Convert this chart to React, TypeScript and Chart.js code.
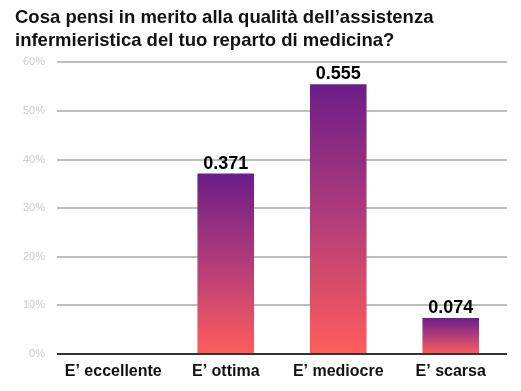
import React, { useEffect, useRef } from "react";
import { Chart, registerables } from "chart.js";

Chart.register(...registerables);

const titleLines = [
  "Cosa pensi in merito alla qualità dell’assistenza",
  "infermieristica del tuo reparto di medicina?",
];
const categories = ["E’ eccellente", "E’ ottima", "E’ mediocre", "E’ scarsa"];
const values = [0, 0.371, 0.555, 0.074];
const valueLabels = ["", "0.371", "0.555", "0.074"];

const FONT = "'Liberation Sans', Arial, sans-serif";

const valueLabelPlugin = {
  id: "valueLabels",
  afterDatasetsDraw(chart: any) {
    const meta = chart.getDatasetMeta(0);
    const ctx = chart.ctx;
    ctx.save();
    ctx.font = `bold 18px ${FONT}`;
    ctx.fillStyle = "#000";
    ctx.textAlign = "center";
    ctx.textBaseline = "alphabetic";
    meta.data.forEach((el: any, i: number) => {
      const t = valueLabels[i];
      if (!t) return;
      ctx.fillText(t, el.x, el.y - 5);
    });
    ctx.restore();
  },
};

export default function App() {
  const ref = useRef<HTMLCanvasElement>(null);
  useEffect(() => {
    if (!ref.current) return;
    const chart = new Chart(ref.current, {
      type: "bar",
      data: {
        labels: categories,
        datasets: [
          {
            data: values,
            backgroundColor: (c: any) => {
              const chart = c.chart;
              const ys = chart.scales && chart.scales.y;
              if (!ys || !chart.chartArea || c.dataIndex === undefined) return "#b43c78";
              const v = values[c.dataIndex];
              const top = ys.getPixelForValue(v);
              const base = ys.getPixelForValue(0);
              if (!isFinite(top) || !isFinite(base) || top === base) return "#b43c78";
              const g = chart.ctx.createLinearGradient(0, top, 0, base);
              g.addColorStop(0, "#6c1d88");
              g.addColorStop(0.5, "#b23d79");
              g.addColorStop(1, "#ff5d5a");
              return g;
            },
            borderWidth: 0,
            barPercentage: 1,
            categoryPercentage: 0.503,
          },
        ],
      },
      options: {
        animation: false,
        responsive: false,
        maintainAspectRatio: false,
        layout: { padding: { left: 15, right: 14, top: 4, bottom: 0 } },
        plugins: {
          legend: { display: false },
          tooltip: { enabled: false },
          title: {
            display: true,
            text: titleLines,
            align: "start",
            color: "#111",
            font: { family: FONT, size: 18.5, weight: "bold", lineHeight: 1.25 },
            padding: { top: 2, bottom: 10 },
          },
        },
        scales: {
          x: {
            grid: { display: false, drawTicks: false },
            border: { display: false },
            ticks: {
              color: "#111",
              font: { family: FONT, size: 16, weight: "bold" },
              padding: 8,
            },
            afterFit: (s: any) => {
              s.height = 37;
            },
          },
          y: {
            min: 0,
            max: 0.6,
            border: { display: false },
            grid: {
              drawTicks: false,
              color: (c: any) => (c.tick && c.tick.value === 0 ? "#333" : "#bdbdbd"),
              lineWidth: 2,
            },
            ticks: {
              stepSize: 0.1,
              color: "#cccccc",
              font: { family: FONT, size: 11 },
              padding: 12,
              callback: (v: any) => `${Math.round(Number(v) * 100)}%`,
            },
            afterFit: (s: any) => {
              s.width = 42;
            },
          },
        },
      },
      plugins: [valueLabelPlugin],
    } as any);
    return () => chart.destroy();
  }, []);
  return (
    <div style={{ position: "absolute", left: 0, top: 0, width: 521, height: 391, background: "#fff" }}>
      <canvas ref={ref} width={521} height={391} style={{ width: 521, height: 391, display: "block" }} />
    </div>
  );
}
